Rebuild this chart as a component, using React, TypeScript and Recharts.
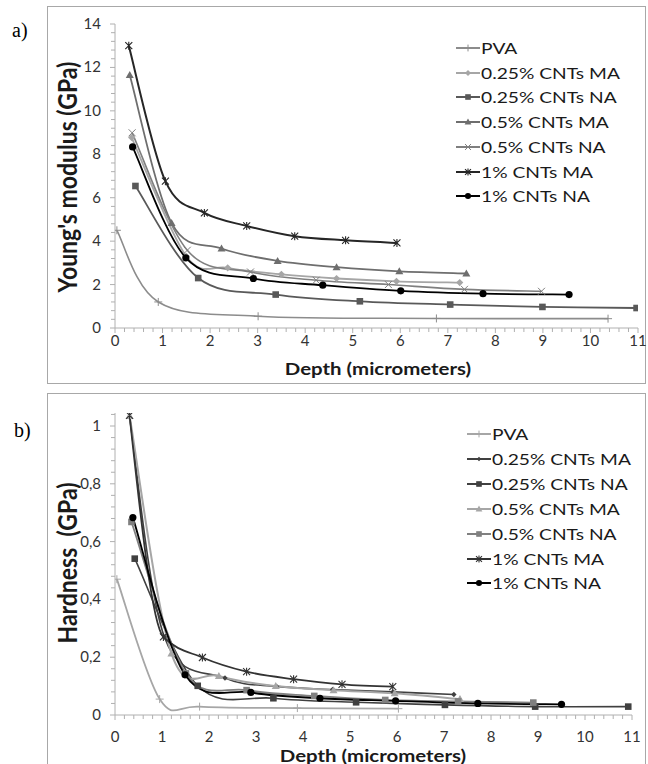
import React from "react";
import { LineChart, Line, XAxis, YAxis } from "recharts";

const SERIES_NAMES = [
  "PVA",
  "0.25% CNTs MA",
  "0.25% CNTs NA",
  "0.5% CNTs MA",
  "0.5% CNTs NA",
  "1% CNTs MA",
  "1% CNTs NA",
];

// a) Young's modulus (GPa) vs depth (micrometers), [depth, value]
const E_PVA = [[0.04, 4.5], [0.91, 1.2], [3.01, 0.54], [6.76, 0.44], [10.37, 0.43]];
const E_025_MA = [[0.35, 8.77], [1.5, 3.3], [2.37, 2.77], [3.5, 2.47], [4.66, 2.28], [5.92, 2.15], [7.25, 2.09]];
const E_025_NA = [[0.43, 6.54], [1.75, 2.3], [3.38, 1.54], [5.15, 1.23], [7.05, 1.08], [8.99, 0.97], [10.97, 0.92]];
const E_05_MA = [[0.31, 11.65], [1.19, 4.84], [2.24, 3.66], [3.42, 3.09], [4.66, 2.8], [5.98, 2.61], [7.39, 2.51]];
const E_05_NA = [[0.36, 8.99], [1.52, 3.58], [2.85, 2.58], [4.23, 2.2], [5.75, 2.0], [7.35, 1.78], [8.97, 1.69]];
const E_1_MA = [[0.29, 13.0], [1.06, 6.76], [1.88, 5.3], [2.77, 4.7], [3.78, 4.23], [4.85, 4.04], [5.93, 3.92]];
const E_1_NA = [[0.37, 8.34], [1.49, 3.23], [2.91, 2.28], [4.37, 1.97], [6.01, 1.71], [7.74, 1.58], [9.55, 1.54]];

// b) Hardness (GPa) vs depth (micrometers)
const H_PVA = [[0.04, 0.47], [0.95, 0.055], [1.8, 0.029], [3.88, 0.024], [6.03, 0.022]];
const H_025_MA = [[0.31, 1.03], [1.05, 0.27], [2.34, 0.128], [3.44, 0.099], [4.63, 0.088], [5.91, 0.08], [7.21, 0.071]];
const H_025_NA = [[0.42, 0.541], [1.76, 0.101], [3.37, 0.058], [5.13, 0.044], [7.02, 0.035], [8.94, 0.029], [10.92, 0.029]];
const H_05_MA = [[0.31, 1.035], [1.2, 0.213], [2.21, 0.135], [3.42, 0.1], [4.65, 0.086], [5.95, 0.075], [7.34, 0.055]];
const H_05_NA = [[0.35, 0.668], [1.51, 0.144], [2.8, 0.086], [4.24, 0.066], [5.75, 0.052], [7.3, 0.047], [8.9, 0.043]];
const H_1_MA = [[0.31, 1.037], [1.03, 0.27], [1.86, 0.199], [2.8, 0.15], [3.8, 0.124], [4.83, 0.106], [5.91, 0.098]];
const H_1_NA = [[0.38, 0.683], [1.49, 0.139], [2.89, 0.078], [4.36, 0.058], [5.97, 0.049], [7.72, 0.04], [9.5, 0.037]];

const X_MAJOR = [0, 1, 2, 3, 4, 5, 6, 7, 8, 9, 10, 11];
const E_MAJOR = [0, 2, 4, 6, 8, 10, 12, 14];
const H_MAJOR = [0, 0.2, 0.4, 0.6, 0.8, 1];

const minorTicks = (max: number, step: number) =>
  Array.from({ length: Math.floor(max / step + 1e-6) + 1 }, (_, i) => +(i * step).toFixed(3));

const X_TICKS = minorTicks(X_MAJOR[X_MAJOR.length - 1], 0.2);
const E_TICKS = minorTicks(E_MAJOR[E_MAJOR.length - 1], 0.4);
const H_TICKS = minorTicks(1.045, 0.04);

const AXIS = "#b0b0b0";
const FONT = "Lato, 'Open Sans', sans-serif";

// smoothed line like a spreadsheet "smoothed line" (catmull-rom style bezier)
const smoothCurve = (context: any) => {
  let pts: number[][] = [];
  return {
    areaStart() {},
    areaEnd() {},
    lineStart() {
      pts = [];
    },
    point(x: number, y: number) {
      pts.push([+x, +y]);
    },
    lineEnd() {
      const n = pts.length;
      if (!n) return;
      context.moveTo(pts[0][0], pts[0][1]);
      for (let i = 0; i < n - 1; i++) {
        const p0 = pts[Math.max(i - 1, 0)];
        const p1 = pts[i];
        const p2 = pts[i + 1];
        const p3 = pts[Math.min(i + 2, n - 1)];
        context.bezierCurveTo(
          p1[0] + (p2[0] - p0[0]) / 6,
          p1[1] + (p2[1] - p0[1]) / 6,
          p2[0] - (p3[0] - p1[0]) / 6,
          p2[1] - (p3[1] - p1[1]) / 6,
          p2[0],
          p2[1]
        );
      }
    },
  };
};

function Marker({ cx, cy, shape, color, s = 1 }: any) {
  if (cx == null || cy == null || isNaN(cx) || isNaN(cy)) return null;
  if (shape === "plus") {
    const r = 4 * s;
    return <path d={`M${cx - r},${cy}H${cx + r}M${cx},${cy - r}V${cy + r}`} stroke={color} strokeWidth={1} fill="none" />;
  }
  if (shape === "diamond") {
    const r = 3.6 * s;
    return <path d={`M${cx},${cy - r}L${cx + r},${cy}L${cx},${cy + r}L${cx - r},${cy}Z`} fill={color} />;
  }
  if (shape === "square") {
    const r = 3.3 * s;
    return <rect x={cx - r} y={cy - r} width={2 * r} height={2 * r} fill={color} />;
  }
  if (shape === "triangle") {
    const r = 4 * s;
    return <path d={`M${cx},${cy - r}L${cx + r},${cy + r * 0.75}L${cx - r},${cy + r * 0.75}Z`} fill={color} />;
  }
  if (shape === "x") {
    const r = 3.5 * s;
    return <path d={`M${cx - r},${cy - r}L${cx + r},${cy + r}M${cx - r},${cy + r}L${cx + r},${cy - r}`} stroke={color} strokeWidth={1} fill="none" />;
  }
  if (shape === "star") {
    const r = 3.5 * s;
    return (
      <path
        d={`M${cx - r},${cy - r}L${cx + r},${cy + r}M${cx - r},${cy + r}L${cx + r},${cy - r}M${cx},${cy - r - 0.5}V${cy + r + 0.5}`}
        stroke={color}
        strokeWidth={1.1}
        fill="none"
      />
    );
  }
  return <circle cx={cx} cy={cy} r={3.6 * s} fill={color} />;
}

const TOP_SERIES = [
  { data: E_PVA, color: "#8c8c8c", shape: "plus", width: 1.6 },
  { data: E_025_MA, color: "#a6a6a6", shape: "diamond", width: 1.8 },
  { data: E_025_NA, color: "#595959", shape: "square", width: 1.8 },
  { data: E_05_MA, color: "#6e6e6e", shape: "triangle", width: 1.8 },
  { data: E_05_NA, color: "#7f7f7f", shape: "x", width: 1.6 },
  { data: E_1_MA, color: "#262626", shape: "star", width: 2 },
  { data: E_1_NA, color: "#000000", shape: "circle", width: 1.8 },
];

const BOTTOM_SERIES = [
  { data: H_PVA, color: "#a6a6a6", shape: "plus", width: 1.8 },
  { data: H_025_MA, color: "#404040", shape: "diamond", width: 1.6, s: 0.75 },
  { data: H_025_NA, color: "#404040", shape: "square", width: 1.6 },
  { data: H_05_MA, color: "#a6a6a6", shape: "triangle", width: 2 },
  { data: H_05_NA, color: "#808080", shape: "square", width: 1.8 },
  { data: H_1_MA, color: "#333333", shape: "star", width: 1.8, curve: "monotone" },
  { data: H_1_NA, color: "#000000", shape: "circle", width: 1.8 },
];

const rows = (pts: number[][]) => pts.map(([x, y]) => ({ x, y }));
const isMult = (v: number, m: number) => Math.abs(v / m - Math.round(v / m)) < 1e-4;

function XTick({ x, y, payload, dy }: any) {
  const v = payload.value;
  const major = isMult(v, 1);
  return (
    <g>
      <line x1={x} x2={x} y1={y} y2={y + (major ? 5 : 4)} stroke={AXIS} strokeWidth={1} />
      {major && (
        <text x={x} y={y + dy} textAnchor="middle" fontSize={15} fontFamily={FONT} fill="#333">
          {v}
        </text>
      )}
    </g>
  );
}

function YTick({ x, y, payload, step, fmt }: any) {
  const v = payload.value;
  const major = isMult(v, step);
  return (
    <g>
      <line x1={x - (major ? 5 : 4)} x2={x} y1={y} y2={y} stroke={AXIS} strokeWidth={1} />
      {major && (
        <text x={x - 14} y={y + 5} textAnchor="end" fontSize={15} fontFamily={FONT} fill="#333">
          {fmt(v)}
        </text>
      )}
    </g>
  );
}

const fmtComma = (v: number) => (isMult(v, 1) ? String(Math.round(v)) : v.toFixed(1).replace(".", ","));

function Panel({ series, yDomain, yTicks, yStep, fmt, width, height, margin, xDy }: any) {
  return (
    <LineChart width={width} height={height} margin={margin}>
      <XAxis
        type="number"
        dataKey="x"
        domain={[X_MAJOR[0], X_MAJOR[X_MAJOR.length - 1]]}
        ticks={X_TICKS}
        interval={0}
        tickSize={0}
        tickMargin={0}
        height={30}
        allowDataOverflow
        axisLine={{ stroke: AXIS }}
        tick={(p: any) => <XTick {...p} dy={xDy} />}
      />
      <YAxis
        type="number"
        dataKey="y"
        domain={yDomain}
        ticks={yTicks}
        interval={0}
        tickSize={0}
        tickMargin={0}
        width={115}
        allowDataOverflow
        axisLine={{ stroke: AXIS }}
        tick={(p: any) => <YTick {...p} step={yStep} fmt={fmt} />}
      />
      {series.map((s: any, i: number) => (
        <Line
          key={SERIES_NAMES[i]}
          name={SERIES_NAMES[i]}
          data={rows(s.data)}
          dataKey="y"
          type={(s.curve || smoothCurve) as any}
          stroke={s.color}
          strokeWidth={s.width}
          dot={(p: any) => <Marker key={`${i}-${p.index}`} cx={p.cx} cy={p.cy} shape={s.shape} color={s.color} s={s.s} />}
          activeDot={false}
          isAnimationActive={false}
        />
      ))}
    </LineChart>
  );
}

function LegendBox({ left, top, step, series }: any) {
  return (
    <div style={{ position: "absolute", left, top }}>
      {series.map((s: any, i: number) => (
        <div key={i} style={{ position: "absolute", left: 0, top: i * step, height: 0 }}>
          <svg width={26} height={14} style={{ position: "absolute", left: 0, top: -7 }}>
            <line x1={1} x2={25} y1={7} y2={7} stroke={s.color} strokeWidth={2} />
            <Marker cx={13} cy={7} shape={s.shape} color={s.color} s={(s.s || 1) * 0.85} />
          </svg>
          <span
            style={{
              position: "absolute",
              left: 26,
              top: -11,
              fontSize: 16,
              lineHeight: "22px",
              whiteSpace: "nowrap",
              color: "#1a1a1a",
              fontFamily: FONT,
              transform: "scaleX(1.2)",
              transformOrigin: "left center",
            }}
          >
            {SERIES_NAMES[i]}
          </span>
        </div>
      ))}
    </div>
  );
}

const titleBase: React.CSSProperties = {
  position: "absolute",
  whiteSpace: "nowrap",
  fontFamily: FONT,
  fontWeight: 700,
  color: "#1a1a1a",
};

export default function App() {
  return (
    <div style={{ position: "absolute", left: 0, top: 0, width: 648, height: 764, background: "#fff", overflow: "hidden" }}>
      <div style={{ position: "absolute", left: 47, top: 6, width: 597, height: 376, border: "1px solid #a8a8a8" }} />
      <div style={{ position: "absolute", left: 47, top: 393, width: 597, height: 390, border: "1px solid #a8a8a8" }} />

      <div style={{ position: "absolute", left: 12, top: 19, fontFamily: "'Liberation Serif', serif", fontSize: 20 }}>a)</div>
      <div style={{ position: "absolute", left: 14, top: 419, fontFamily: "'Liberation Serif', serif", fontSize: 20 }}>b)</div>

      <div style={{ position: "absolute", left: 0, top: 0 }}>
        <Panel
          series={TOP_SERIES}
          yDomain={[E_MAJOR[0], E_MAJOR[E_MAJOR.length - 1]]}
          yTicks={E_TICKS}
          yStep={2}
          fmt={(v: number) => String(Math.round(v))}
          width={648}
          height={382}
          margin={{ top: 24, right: 10, left: 0, bottom: 24 }}
          xDy={18}
        />
      </div>
      <div style={{ position: "absolute", left: 0, top: 386 }}>
        <Panel
          series={BOTTOM_SERIES}
          yDomain={[H_MAJOR[0], 1.045]}
          yTicks={H_TICKS}
          yStep={0.2}
          fmt={fmtComma}
          width={648}
          height={378}
          margin={{ top: 27, right: 16, left: 0, bottom: 19 }}
          xDy={27}
        />
      </div>

      <LegendBox left={455} top={48} step={24.7} series={TOP_SERIES} />
      <LegendBox left={466} top={434} step={24.9} series={BOTTOM_SERIES} />

      <div style={{ ...titleBase, left: 67, top: 177, fontSize: 23, transform: "translate(-50%,-50%) rotate(-90deg) scaleY(1.15)" }}>
        Young's modulus (GPa)
      </div>
      <div style={{ ...titleBase, left: 67, top: 563, fontSize: 23, transform: "translate(-50%,-50%) rotate(-90deg) scaleY(1.15)" }}>
        Hardness &nbsp;(GPa)
      </div>
      <div style={{ ...titleBase, left: 378, top: 368, fontSize: 17, transform: "translate(-50%,-50%) scaleX(1.2)" }}>
        Depth (micrometers)
      </div>
      <div style={{ ...titleBase, left: 373, top: 755, fontSize: 17, transform: "translate(-50%,-50%) scaleX(1.2)" }}>
        Depth (micrometers)
      </div>
    </div>
  );
}
